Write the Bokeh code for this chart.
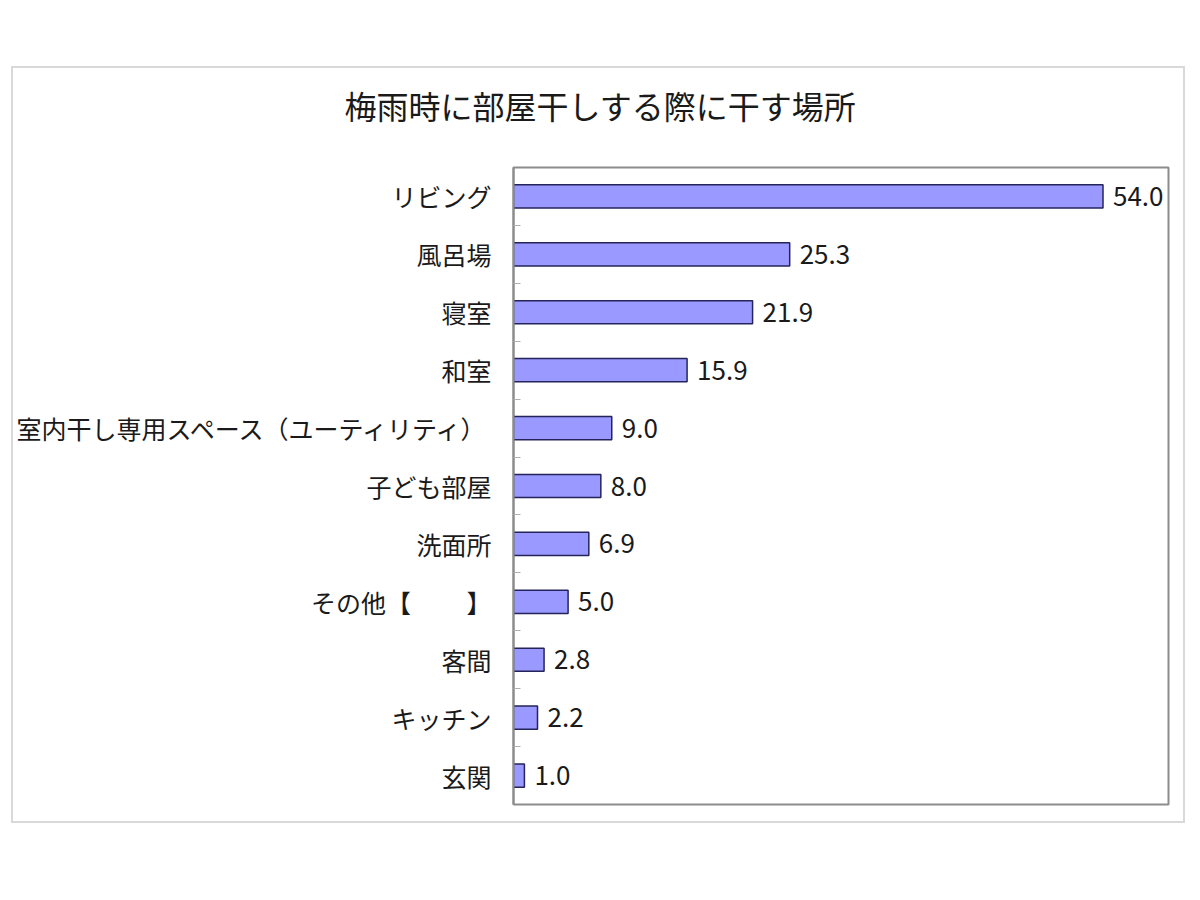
from bokeh.plotting import figure
from bokeh.models import Range1d, FixedTicker, LabelSet, Title, ColumnDataSource
from bokeh.core.properties import value
from bokeh.embed import file_html
from bokeh.resources import INLINE

# data (percent)
places = [
    "リビング",
    "風呂場",
    "寝室",
    "和室",
    "室内干し専用スペース（ユーティリティ）",
    "子ども部屋",
    "洗面所",
    "その他【　　 】",
    "客間",
    "キッチン",
    "玄関",
]
shares = [54.0, 25.3, 21.9, 15.9, 9.0, 8.0, 6.9, 5.0, 2.8, 2.2, 1.0]
title_text = "梅雨時に部屋干しする際に干す場所"

FONT = "Noto Sans CJK JP"
FRAME_W, FRAME_H = 655, 637

pos = list(range(len(places)))
src = ColumnDataSource(dict(
    y=pos,
    v=shares,
    t=[f"{s:.1f}" for s in shares],
))

p = figure(
    width=1171, height=753,
    frame_width=FRAME_W, frame_height=FRAME_H,
    x_range=Range1d(0, 60),
    y_range=Range1d(len(places) - 0.5, -0.5),
    x_axis_location=None,
    toolbar_location=None,
    output_backend="svg",
    title=title_text,
    min_border_left=499, min_border_top=99,
    min_border_right=15, min_border_bottom=17,
)
p.margin = (66, 0, 0, 11)
p.styles = {"border": "2px solid #d9d9d9"}
p.background_fill_color = "white"
p.border_fill_color = "white"
p.outline_line_color = "#8c8c8c"
p.outline_line_width = 2
p.xgrid.visible = False
p.ygrid.visible = False

# title centred over the whole chart box, not the frame
p.title.align = "left"
p.title.offset = -169
p.title.vertical_align = "bottom"
p.title.standoff = 0
p.title.text_font = FONT
p.title.text_font_size = "32px"
p.title.text_font_style = "normal"
p.title.text_color = "#1a1a1a"

# blank panel between the title and the plot box, to lift the title
p.add_layout(Title(text="　", text_font=FONT, text_font_size="20px",
                   text_color="white", standoff=9), "above")

p.hbar(y="y", right="v", left=0, height=0.4, source=src,
       fill_color="#9999ff", line_color="#24245a", line_width=1.5)

# category labels on the axis, small tick marks between categories
yax = p.yaxis[0]
yax.ticker = FixedTicker(ticks=pos, minor_ticks=[i + 0.5 for i in pos[:-1]])
yax.major_label_overrides = {i: name for i, name in enumerate(places)}
yax.major_tick_line_color = None
yax.major_tick_out = 0
yax.major_tick_in = 0
yax.minor_tick_in = 7
yax.minor_tick_out = 0
yax.minor_tick_line_color = "#b0b0b0"
yax.axis_line_color = "#8c8c8c"
yax.axis_line_width = 2
yax.major_label_standoff = 22
yax.major_label_text_font = FONT
yax.major_label_text_font_size = "25px"
yax.major_label_text_color = "#1a1a1a"

p.add_layout(LabelSet(x="v", y="y", text="t", source=src, x_offset=10,
                      text_baseline="middle", text_font=value(FONT),
                      text_font_size=value("26px"), text_color="#1a1a1a"))

open("out.html", "w").write(file_html(p, INLINE))
